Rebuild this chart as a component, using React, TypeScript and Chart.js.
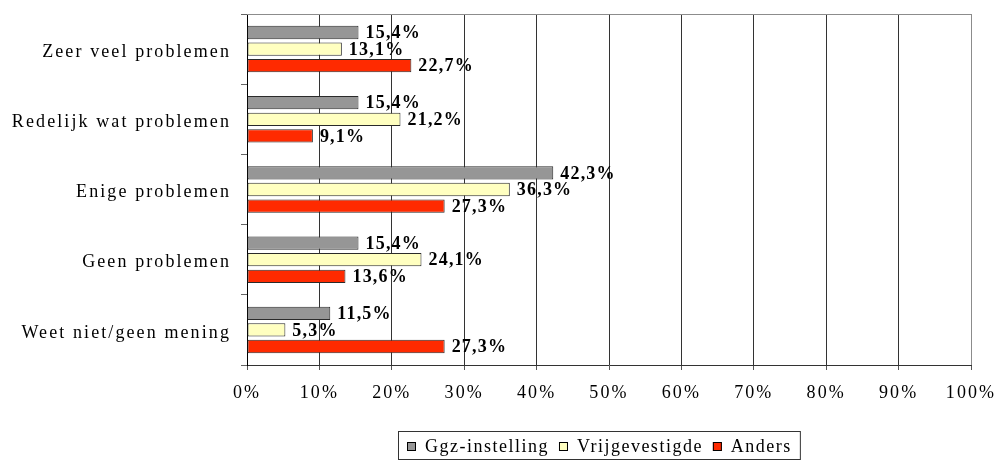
import React, { useEffect, useRef } from 'react';
import { Chart, registerables } from 'chart.js';

Chart.register(...registerables);

const categories = [
  'Zeer veel problemen',
  'Redelijk wat problemen',
  'Enige problemen',
  'Geen problemen',
  'Weet niet/geen mening',
];
const seriesNames = ['Ggz-instelling', 'Vrijgevestigde', 'Anders'];
const ggzValues = [15.4, 15.4, 42.3, 15.4, 11.5];
const vrijValues = [13.1, 21.2, 36.3, 24.1, 5.3];
const andersValues = [22.7, 9.1, 27.3, 13.6, 27.3];
const seriesColors = ['#969696', '#FFFFC0', '#FF2A00'];
const xMin = 0;
const xMax = 100;
const xStep = 10;

const FONT = "'Liberation Serif', 'Times New Roman', serif";

const fmt = (v: number) => v.toFixed(1).replace('.', ',') + '%';

const decorPlugin = {
  id: 'decor',
  beforeDraw(chart: any) {
    chart.ctx.letterSpacing = '2.1px';
  },
  afterDatasetsDraw(chart: any) {
    const ctx = chart.ctx;
    ctx.save();
    ctx.letterSpacing = '1.2px';
    ctx.font = `bold 18px ${FONT}`;
    ctx.fillStyle = '#000';
    ctx.textAlign = 'left';
    ctx.textBaseline = 'middle';
    chart.data.datasets.forEach((ds: any, i: number) => {
      const meta = chart.getDatasetMeta(i);
      meta.data.forEach((el: any, j: number) => {
        ctx.fillText(fmt(ds.data[j]), el.x + 7, el.y + 1);
      });
    });
    ctx.restore();
  },
  afterDraw(chart: any) {
    const ctx = chart.ctx;
    const { left, right, top } = chart.chartArea;
    ctx.save();
    ctx.strokeStyle = '#8c8c8c';
    ctx.lineWidth = 1;
    ctx.beginPath();
    ctx.moveTo(left, Math.round(top) + 0.5);
    ctx.lineTo(right + 1, Math.round(top) + 0.5);
    ctx.stroke();

    // legend
    ctx.letterSpacing = '1.5px';
    ctx.font = `18px ${FONT}`;
    ctx.textBaseline = 'middle';
    ctx.textAlign = 'left';
    const boxLeft = 398;
    const boxTop = 431;
    const boxBottom = 459;
    const cy = 447;
    const sq = 9;
    let cur = boxLeft + 9;
    chart.data.datasets.forEach((ds: any) => {
      ctx.fillStyle = ds.backgroundColor;
      ctx.fillRect(cur, cy - 5, sq, sq);
      ctx.strokeStyle = '#000';
      ctx.lineWidth = 1;
      ctx.strokeRect(cur + 0.5, cy - 5 + 0.5, sq - 1, sq - 1);
      const tx = cur + 18;
      ctx.fillStyle = '#000';
      ctx.fillText(ds.label, tx, cy);
      const w = ctx.measureText(ds.label).width;
      cur = tx + w + 10;
    });
    const boxRight = cur - 2;
    ctx.strokeStyle = '#333';
    ctx.strokeRect(boxLeft + 0.5, boxTop + 0.5, boxRight - boxLeft, boxBottom - boxTop);
    ctx.restore();
    ctx.letterSpacing = '0px';
  },
};

export default function App() {
  const canvasRef = useRef<HTMLCanvasElement | null>(null);

  useEffect(() => {
    if (!canvasRef.current) return;
    const values = [ggzValues, vrijValues, andersValues];
    const chart = new Chart(canvasRef.current, {
      type: 'bar',
      data: {
        labels: categories,
        datasets: seriesNames.map((name, i) => ({
          label: name,
          data: values[i],
          backgroundColor: seriesColors[i],
          borderColor: '#2a2a2a',
          borderWidth: 1,
          borderSkipped: false,
          barPercentage: 0.8,
          categoryPercentage: 0.71,
        })),
      },
      options: {
        indexAxis: 'y',
        animation: false,
        responsive: true,
        maintainAspectRatio: false,
        layout: { padding: { top: 14, right: 24, bottom: 0, left: 0 } },
        plugins: {
          legend: { display: false },
          tooltip: { enabled: false },
          title: { display: false },
        },
        scales: {
          x: {
            min: xMin,
            max: xMax,
            ticks: {
              stepSize: xStep,
              callback: (v: any) => v + '%',
              font: { family: FONT, size: 18 },
              color: '#000',
              padding: 12,
              maxRotation: 0,
            },
            grid: {
              color: (c: any) => (c.index === 10 ? '#8c8c8c' : '#333'),
              tickColor: '#555',
              tickLength: 5,
              lineWidth: 1,
            },
            border: { display: true, color: '#333' },
            afterFit: (scale: any) => {
              scale.height = 95;
              scale.paddingLeft = 0;
              scale.paddingRight = 0;
            },
          },
          y: {
            ticks: {
              font: { family: FONT, size: 18 },
              color: '#000',
              padding: 10,
              labelOffset: 3,
            },
            grid: {
              drawOnChartArea: false,
              drawTicks: true,
              tickLength: 6,
              tickColor: '#666',
              offset: true,
            },
            border: { display: true, color: '#000' },
            afterFit: (scale: any) => {
              scale.width = 247;
              scale.paddingTop = 0;
              scale.paddingBottom = 0;
            },
          },
        },
      },
      plugins: [decorPlugin],
    });
    return () => chart.destroy();
  }, []);

  return (
    <div style={{ position: 'absolute', left: 0, top: 0, width: 995, height: 460, background: '#fff' }}>
      <canvas ref={canvasRef} />
    </div>
  );
}
